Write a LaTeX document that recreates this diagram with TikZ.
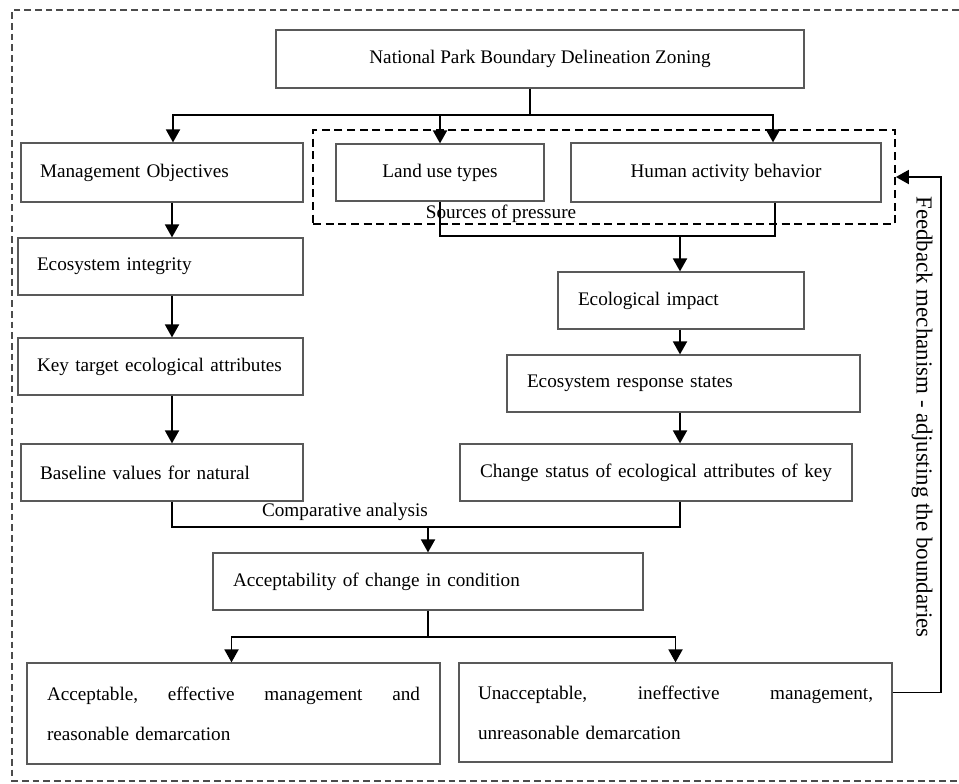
\documentclass[tikz,border=0pt]{standalone}
\usepackage{fontspec}
\setmainfont{Liberation Serif}
\usetikzlibrary{arrows.meta,calc}
\newcommand{\fs}{\fontsize{14.4}{17}\selectfont}
\begin{document}
\begin{tikzpicture}[x=0.75pt,y=-0.75pt,
  box/.style={draw=black!65, line width=0.9pt, inner ysep=0pt, font=\fs},
  cbox/.style 2 args={box, minimum width=#1, minimum height=#2, inner xsep=0pt, align=center},
  lbox/.style n args={3}{box, text width=#1, inner xsep=#3, minimum height=#2, align=left},
  press/.style={draw=black, line width=1.3pt, dash pattern=on 6pt off 3.5pt, minimum width=436.5pt, minimum height=70.5pt, inner sep=0pt},
  outer/.style={draw=black!70, line width=0.9pt, dash pattern=on 5pt off 3pt},
  line/.style={draw=black, line width=1.4pt},
  arr/.style={line, -{Triangle[length=9.75pt,width=10.5pt]}},
  lbl/.style={font=\fs, inner sep=0pt}
]
\useasboundingbox (0,0) rectangle (959,783);
% outer dashed frame
\draw[outer] (959,10) -- (12,10) -- (12,781) -- (959,781);

% pressure group
\node[press] (press) at (604,177) {};
\node[lbl] (src) at (501,214) {Sources of pressure};

% boxes
\node[cbox={396pt}{43.5pt}] (title) at (540,59) {National Park Boundary Delineation Zoning};
\node[lbox={183pt}{44.25pt}{14.25pt}] (mgmt) at (162,172.5) {Management Objectives};
\node[cbox={156pt}{42.75pt}] (land) at (440,172.5) {Land use types};
\node[cbox={232.5pt}{44.25pt}] (human) at (726,172.5) {Human activity behavior};
\node[lbox={185.25pt}{42.75pt}{14.25pt}] (ecoint) at (160.5,266.5) {Ecosystem integrity};
\node[lbox={185.25pt}{42.75pt}{14.25pt}] (key) at (160.5,366.5) {Key target ecological attributes};
\node[lbox={183pt}{42.75pt}{14.25pt}] (base) at (162,472.5) {Baseline values for natural};
\node[lbox={154.5pt}{42.75pt}{15pt}] (impact) at (681,300.5) {Ecological impact};
\node[lbox={234.75pt}{42.75pt}{15pt}] (resp) at (683.5,383.5) {Ecosystem response states};
\node[lbox={264pt}{42.75pt}{15pt}] (change) at (656,472.5) {\hbox to 264pt{Change\hfill status\hfill of\hfill ecological\hfill attributes\hfill of\hfill key}};
\node[lbox={292.5pt}{42.75pt}{15pt}] (accept) at (428,581.5) {Acceptability of change in condition};
\node[lbox={279.75pt}{75.75pt}{15pt}, font=\fontsize{14.4}{30}\selectfont] (leftb) at (233.5,713.5)
  {\hbox to 279.75pt{Acceptable,\hfill effective\hfill management\hfill and}\\reasonable demarcation};
\node[lbox={296.25pt}{74.25pt}{14.25pt}, font=\fontsize{14.4}{30}\selectfont] (rightb) at (675.5,712.5)
  {\hbox to 296.25pt{Unacceptable,\hfill ineffective\hfill management,}\\unreasonable demarcation};

\node[lbl] (cmp) at (345,512) {Comparative analysis};
\node[font=\fontsize{17.2}{20}\selectfont, inner sep=0pt, rotate=-90] (fbt) at (922,417) {Feedback mechanism - adjusting the boundaries};

% bus coordinates
\coordinate (bus1) at (530,115);
\coordinate (bus2) at (680,236);
\coordinate (bus3) at (428,527);
\coordinate (bus4) at (428,637);
\coordinate (lc) at (172,0);
\coordinate (fbtop) at (941,177);

% connectors
\draw[line] ($(title.south)+(-10,0)$) -- (bus1);
\draw[arr] (bus1) -| ($(mgmt.north)+(11,0)$);
\draw[arr] (bus1 -| land.north) -- (land.north);
\draw[arr] (bus1) -| ($(human.north)+(47,0)$);

\draw[line] (land.south) |- (bus2);
\draw[line] ($(human.south)+(49,0)$) |- (bus2);
\draw[arr] (bus2) -- (bus2 |- impact.north);
\draw[arr] (bus2 |- impact.south) -- (bus2 |- resp.north);
\draw[arr] (bus2 |- resp.south) -- (bus2 |- change.north);

\draw[arr] (mgmt.south -| lc) -- (ecoint.north -| lc);
\draw[arr] (ecoint.south -| lc) -- (key.north -| lc);
\draw[arr] (key.south -| lc) -- (base.north -| lc);

\draw[line] (base.south -| lc) |- (bus3);
\draw[line] (change.south -| bus2) |- (bus3);
\draw[arr] (bus3) -- (accept.north);

\draw[line] (accept.south) -- (bus4);
\draw[arr] (bus4) -| ($(leftb.north)+(-2,0)$);
\draw[arr] (bus4) -| (rightb.north);

\draw[arr] ($(rightb.east)+(0,-20)$) -| (fbtop) -- (press.east);
\end{tikzpicture}
\end{document}
